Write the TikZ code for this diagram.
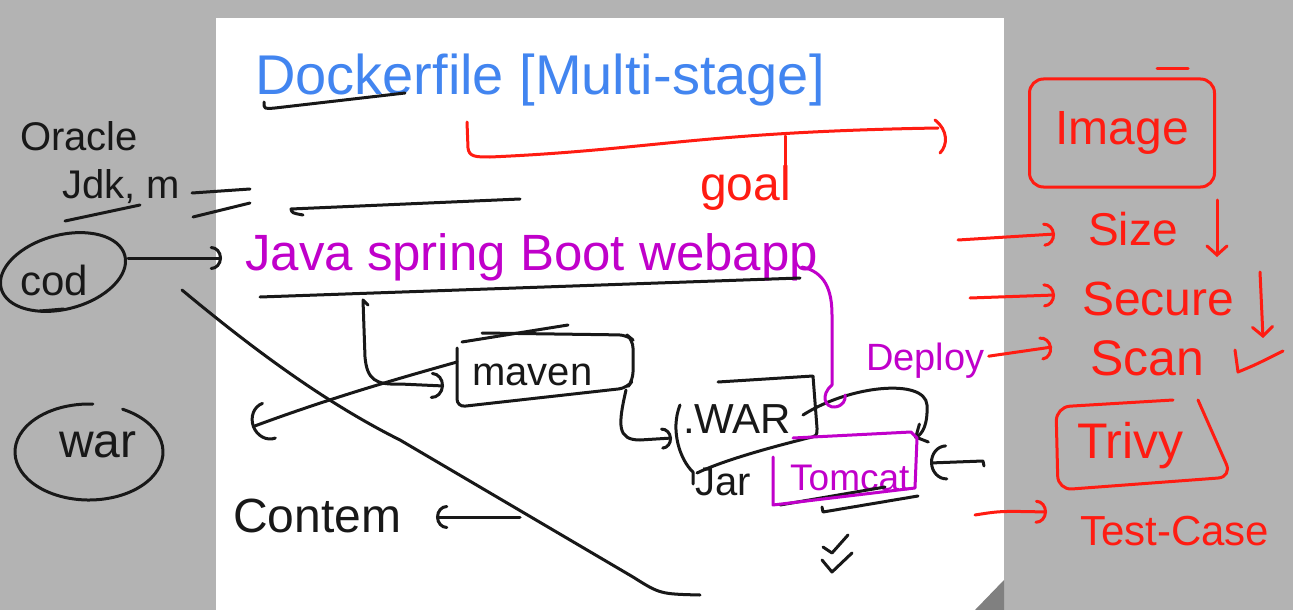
\documentclass[tikz,border=0pt]{standalone}
\usepackage{fontspec}
\setmainfont{Liberation Sans}
\usetikzlibrary{arrows.meta,shapes.geometric}
\definecolor{bggray}{RGB}{179,179,179}
\definecolor{foldgray}{RGB}{128,128,128}
\definecolor{ink}{RGB}{24,24,24}
\definecolor{bluink}{RGB}{66,133,240}
\definecolor{magink}{RGB}{192,0,202}
\definecolor{redink}{RGB}{255,28,18}
\newcommand{\myfs}[1]{\fontsize{#1}{#1}\selectfont}
\begin{document}
\begin{tikzpicture}[x=1pt,y=-1pt,
  pen/.style={line width=3pt,line cap=round,line join=round},
  blk/.style={pen,draw=ink},
  redp/.style={pen,draw=redink},
  magp/.style={pen,draw=magink},
  lbl/.style={inner sep=0pt,anchor=base west},
  blktxt/.style={lbl,text=ink},
  redtxt/.style={lbl,text=redink},
  magtxt/.style={lbl,text=magink},
  arc tip/.style={-{Arc Barb[length=#1*0.45,width=#1,line cap=round]}},
  barb tip/.style={-{Straight Barb[length=9pt,width=20pt,line cap=round]}}
]
\useasboundingbox (0,0) rectangle (1293,610);
% background and page
\fill[bggray] (0,0) rectangle (1293,610);
\fill[white] (216,18) rectangle (1004,610);
\fill[foldgray] (975,610) -- (1004,580) -- (1004,610) -- cycle;

% ---------------- text nodes ----------------
\node[lbl,text=bluink,font=\myfs{56}] (title) at (255,94) {Dockerfile [Multi-stage]};
\node[redtxt,font=\myfs{48}] (goal) at (700,200) {goal};
\node[blktxt,font=\myfs{40}] (oracle) at (20,150) {Oracle};
\node[blktxt,font=\myfs{40}] (jdk) at (62,198) {Jdk, m};
\node[text=ink,inner sep=0pt,font=\myfs{42}] (codtxt) at (54,280) {cod};
\node[text=ink,inner sep=0pt,font=\myfs{48}] (wartxt) at (98,445) {war};
\coordinate (codc) at (63,272);
\coordinate (warc) at (89,452);
\node[magtxt,font=\myfs{51}] (java) at (245,270) {Java spring Boot webapp};
\node[blktxt,font=\myfs{40}] (maven) at (472,385) {maven};
\node[blktxt,font=\myfs{42}] (war) at (683,433) {.WAR};
\node[blktxt,font=\myfs{40}] (jar) at (695,495) {Jar};
\node[magtxt,font=\myfs{37}] (tomcat) at (790,490) {Tomcat};
\node[magtxt,font=\myfs{38}] (deploy) at (866,370) {Deploy};
\node[blktxt,font=\myfs{48}] (contem) at (233,532) {Contem};
\node[draw=redink,line width=3pt,rounded corners=14pt,minimum width=185pt,minimum height=108pt,
      text=redink,font=\myfs{48}] (image) at (1122,133) {Image};
\node[redtxt,font=\myfs{46}] (size) at (1088,245) {Size};
\node[redtxt,font=\myfs{48}] (secure) at (1082,315) {Secure};
\node[redtxt,font=\myfs{50}] (scan) at (1090,375) {Scan};
\node[redtxt,font=\myfs{50}] (trivy) at (1077,458) {Trivy};
\node[redtxt,font=\myfs{42}] (testcase) at (1080,545) {Test-Case};

% ---------------- named points ----------------
\coordinate (codout) at (128,258);
\coordinate (javain) at (222,258);
\coordinate (javaulL) at (260,297);
\coordinate (javaulR) at (800,278);
\coordinate (mavenin) at (444,386);
\coordinate (mavenleft) at (457,362);
\coordinate (lefthook) at (252,427);
\coordinate (mavenbr) at (626,390);
\coordinate (warin) at (672,438);
\coordinate (warinside) at (803,415);
\coordinate (tomin) at (914,438);
\coordinate (tomright) at (930,463);
\coordinate (contemin) at (436,517);

% ---------------- black strokes ----------------
% underline of Docker
\draw[blk] (264,102) .. controls (264,109) .. (275,108) -- (405,93);
% equals sign
\draw[blk] (192,193) -- (250,189);
\draw[blk] (193,217) -- (250,203);
% underline of Jdk
\draw[blk] (65,221) -- (140,205);
% cod ellipse and its underline
\draw[blk,rotate around={15:(codc)}] (codc) ellipse [x radius=64,y radius=37];
\draw[blk] (40,311) -- (64,309);
% line above Java
\draw[blk] (303,215) .. controls (292,213) .. (291,209) -- (520,199);
% underline of Java
\draw[blk] (javaulL) -- (javaulR);
% arrow cod -> Java
\draw[blk,arc tip=24pt] (codout) -- (javain);
% war ellipse (open at top)
\draw[blk] (warc) ++(-63:74 and 48) arc[start angle=-63,end angle=273,x radius=74,y radius=48];
% long diagonal
\draw[blk] (182,290) .. controls (260,355) and (330,405) .. (400,440) -- (633,577) .. controls (660,594) .. (700,595);
% Java -> maven
\draw[blk,arc tip=27pt] (368,305) -- (363,300) -- (365,357) .. controls (367,380) and (376,385) .. (400,384) -- (mavenin);
% maven box
\draw[blk,rounded corners=8pt] (457,348) -- (457,407) -- (627,388) -- (633,380) -- (633,340) -- (627,335) -- (482,333);
\draw[blk] (462,342) -- (568,325);
% maven -> left hook
\draw[blk,arc tip=40pt] (mavenleft) .. controls (400,378) and (330,398) .. (lefthook);
% maven -> .WAR
\draw[blk,arc tip=22pt] (mavenbr) .. controls (618,425) and (617,440) .. (640,440) -- (warin);
% .WAR shape
\draw[blk] (718,382) -- (813,376) -- (817,428) .. controls (817,436) .. (808,438) .. controls (760,450) and (720,462) .. (697,473);
\draw[blk] (680,405) .. controls (670,430) and (680,460) .. (693,472) -- (693,484);
% loop .WAR -> Tomcat
\draw[blk,barb tip] (warinside) .. controls (850,385) and (925,378) .. (927,405) .. controls (928,425) and (922,434) .. (tomin);
% underlines of Tomcat
\draw[blk] (780,505) -- (885,487);
\draw[blk] (822,507) -- (823,512) -- (918,496);
% arrow into Tomcat from right
\draw[blk,arc tip=36pt] (984,466) -- (983,461) -- (tomright);
% checks
\draw[blk] (823,547) -- (832,553) -- (848,535);
\draw[blk] (822,560) -- (832,572) -- (852,553);
% arrow to Contem
\draw[blk,arc tip=24pt] (520,517) -- (contemin);

% ---------------- magenta strokes ----------------
\draw[magp] (773,457) -- (773,505) -- (915,488) -- (917,438) -- (911,432) -- (793,438);
\draw[magp] (802,267) .. controls (825,272) and (832,290) .. (832,315) -- (832,385)
  .. controls (820,395) and (825,408) .. (835,407) .. controls (843,406) and (846,400) .. (845,395);

% ---------------- red strokes ----------------
\draw[redp] (467,122) -- (468,148) .. controls (469,157) and (476,157) .. (490,157)
  .. controls (650,150) and (700,132) .. (938,128);
\draw[redp] (935,120) .. controls (948,130) and (948,145) .. (940,153);
\draw[redp] (785,136) -- (785,168);
\draw[redp] (1157,69) -- (1188,69);
\draw[redp,arc tip=24pt] (958,240) -- (1055,234);
\draw[redp,arc tip=24pt] (970,298) -- (1055,295);
\draw[redp,arc tip=24pt] (deploy.east) ++(4,-4) -- (1052,347);
\draw[redp,arc tip=24pt] (975,515) .. controls (1000,511) .. (1047,512);
\draw[redp,barb tip] (1217,200) -- (1217,257);
\draw[redp,barb tip] (1260,272) -- (1263,338);
\draw[redp] (1235,350) -- (1238,372) .. controls (1255,365) .. (1283,351);
\draw[redp,rounded corners=14pt] (1173,400) -- (1056,407) -- (1058,490) -- (1232,477) -- (1198,400);
\end{tikzpicture}
\end{document}
